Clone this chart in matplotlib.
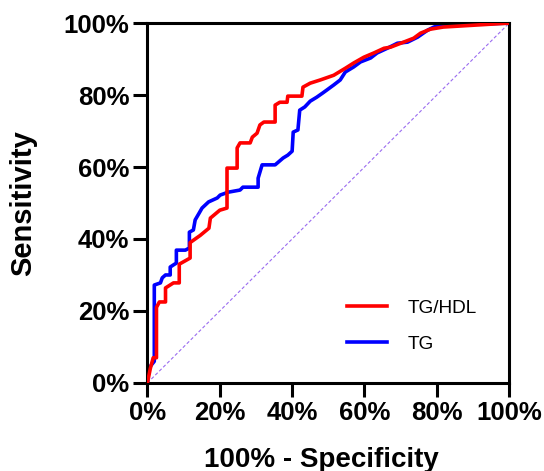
import numpy as np
import matplotlib.pyplot as plt

# courbes ROC (100% - specificite, sensibilite), en %
fpr_ratio = [0, 0.8, 1.6, 2.5, 2.5, 3.3, 5.0, 5.0, 7.2, 8.8, 8.8, 11.8, 11.8, 14.6, 17.0, 17.4,
             20.0, 22.0, 22.0, 24.8, 24.8, 25.6, 28.4, 29.0, 30.3, 31.1, 32.2, 35.3, 35.3,
             36.6, 38.6, 38.8, 42.7, 43.0, 45.0, 47.8, 51.5, 54.8, 57.0, 59.8, 62.6, 65.4,
             67.2, 70.8, 73.6, 75.5, 78.2, 81.8, 100]
tpr_ratio = [0, 4.0, 7.0, 7.0, 21.0, 22.5, 22.5, 26.4, 27.8, 27.8, 33.0, 34.7, 39.0, 41.0, 43.0,
             45.8, 48.0, 48.6, 59.7, 59.7, 65.3, 66.7, 66.7, 68.3, 69.4, 71.7, 72.5, 72.5,
             77.2, 78.0, 78.0, 79.7, 79.7, 82.2, 83.3, 84.2, 85.5, 87.5, 88.9, 90.5, 91.7,
             93.0, 93.3, 94.7, 95.8, 97.2, 98.3, 98.9, 100]

fpr_tg = [0, 0.3, 1.9, 1.9, 3.6, 4.1, 5.0, 6.3, 6.3, 7.2, 8.0, 8.0, 10.5, 11.6, 11.6, 12.7, 13.2,
          14.3, 15.1, 16.9, 19.3, 20.1, 22.3, 25.6, 26.4, 30.6, 30.6, 31.7, 35.3, 37.5,
          38.8, 40.0, 40.3, 41.6, 42.1, 43.5, 45.0, 46.8, 48.5, 49.6, 51.5, 53.3, 54.7,
          57.0, 58.9, 61.7, 63.5, 66.3, 69.1, 71.9, 74.7, 77.4, 79.2, 81.0, 100]
tpr_tg = [0, 4.0, 6.0, 27.2, 27.8, 29.2, 30.0, 30.0, 32.2, 32.8, 33.3, 36.9, 36.9, 37.5, 41.9, 42.5,
          45.3, 47.2, 48.6, 50.3, 51.4, 52.2, 53.0, 53.6, 54.4, 54.4, 56.9, 60.6, 60.6,
          62.5, 63.3, 64.4, 69.7, 70.3, 75.8, 76.7, 78.3, 79.4, 80.6, 81.4, 82.8, 84.2,
          86.4, 87.8, 89.2, 90.3, 91.7, 93.0, 94.4, 94.7, 96.1, 98.0, 98.9, 99.4, 100]

ticks = [0, 20, 40, 60, 80, 100]
tick_labels = ['0%', '20%', '40%', '60%', '80%', '100%']

plt.rcParams['font.family'] = ['Liberation Sans', 'DejaVu Sans']

fig = plt.figure(figsize=(5.44, 4.71), dpi=100)
ax = fig.add_axes([0.271, 0.187, 0.665, 0.764])

ax.plot([0, 100], [0, 100], color='#9a6cf0', lw=0.8, linestyle=(0, (3, 2)))
ax.plot(fpr_ratio, tpr_ratio, color='#ff0000', lw=2.6, label='TG/HDL', zorder=3)
ax.plot(fpr_tg, tpr_tg, color='#0000ff', lw=2.6, label='TG', zorder=2)

ax.set_xlim(0, 100)
ax.set_ylim(0, 100)
ax.set_xticks(ticks)
ax.set_yticks(ticks)
ax.set_xticklabels(tick_labels, fontsize=18.5, fontweight='bold')
ax.set_yticklabels(tick_labels, fontsize=18.5, fontweight='bold')
ax.tick_params(length=10, width=2.2, direction='out', pad=3)
for s in ax.spines.values():
    s.set_linewidth(2.2)

ax.set_xlabel('100% - Specificity', fontsize=20, fontweight='bold', labelpad=16)
ax.xaxis.label.set_x(0.482)
ax.set_ylabel('Sensitivity', fontsize=21, fontweight='bold', labelpad=19)

leg = ax.legend(loc='center left', bbox_to_anchor=(0.552, 0.158), frameon=False,
                fontsize=13.7, handlelength=2.1, handletextpad=1.1, labelspacing=1.0,
                borderpad=0, borderaxespad=0)

fig.savefig('out.png', dpi=100)
